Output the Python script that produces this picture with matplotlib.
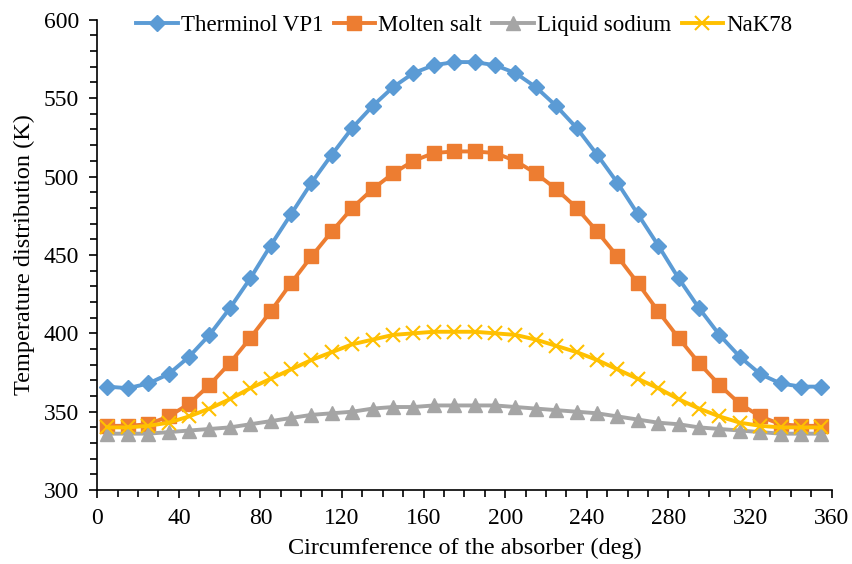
import numpy as np
import matplotlib
matplotlib.use("Agg")
import matplotlib.pyplot as plt
from matplotlib.ticker import MultipleLocator

plt.rcParams['font.family'] = ['Liberation Serif', 'DejaVu Serif']

angle = list(range(5, 360, 10))

therminol = [366, 365, 368, 374, 385, 399, 416, 435, 456, 476, 496, 514,
             531, 545, 557, 566, 571, 573, 573, 571, 566, 557, 545, 531,
             514, 496, 476, 456, 435, 416, 399, 385, 374, 368, 366, 366]
molten = [341, 341, 342, 347, 355, 367, 381, 397, 414, 432, 449, 465,
          480, 492, 502, 510, 515, 516, 516, 515, 510, 502, 492, 480,
          465, 449, 432, 414, 397, 381, 367, 355, 347, 342, 341, 341]
sodium = [336, 336, 336, 337, 338, 339, 340, 342, 344, 346, 348, 349,
          350, 352, 353, 353, 354, 354, 354, 354, 353, 352, 351, 350,
          349, 347, 345, 343, 342, 340, 339, 338, 337, 336, 336, 336]
nak = [340, 340, 341, 343, 347, 352, 358, 365, 371, 377, 383, 388,
       393, 396, 399, 400, 401, 401, 401, 400, 399, 396, 392, 388,
       383, 377, 371, 365, 358, 352, 347, 343, 341, 340, 340, 340]

fig = plt.figure(figsize=(8.53, 5.64), dpi=100)
ax = fig.add_axes([0.114, 0.131, 0.861, 0.834])

ax.plot(angle, therminol, color='#5B9BD5', lw=2.8, marker='D', ms=8.5, label='Therminol VP1')
ax.plot(angle, molten, color='#ED7D31', lw=2.8, marker='s', ms=10.5, label='Molten salt')
ax.plot(angle, sodium, color='#A5A5A5', lw=2.8, marker='^', ms=9.5, label='Liquid sodium')
ax.plot(angle, nak, color='#FFC000', lw=2.8, marker='x', ms=9.5, mew=1.5, label='NaK78')

ax.set_xlim(0, 360)
ax.set_ylim(300, 600)
ax.xaxis.set_major_locator(MultipleLocator(40))
ax.xaxis.set_minor_locator(MultipleLocator(10))
ax.yaxis.set_major_locator(MultipleLocator(50))
ax.yaxis.set_minor_locator(MultipleLocator(10))
ax.tick_params(which='both', direction='out', labelsize=17, width=1.2)
ax.tick_params(which='major', length=6, pad=7)
ax.tick_params(which='minor', length=5)
ax.spines['top'].set_visible(False)
ax.spines['right'].set_visible(False)
ax.spines['left'].set_linewidth(1.2)
ax.spines['bottom'].set_linewidth(1.2)

ax.set_xlabel('Circumference of the absorber (deg)', fontsize=17.5, labelpad=6)
ax.set_ylabel('Temperature distribution (K)', fontsize=17.5, labelpad=6)

ax.legend(loc='upper center', bbox_to_anchor=(0.5, 1.055), ncol=4, frameon=False,
          fontsize=16.5, handlelength=1.8, handletextpad=0.15, columnspacing=0.45)

fig.savefig('out.png', dpi=100)
